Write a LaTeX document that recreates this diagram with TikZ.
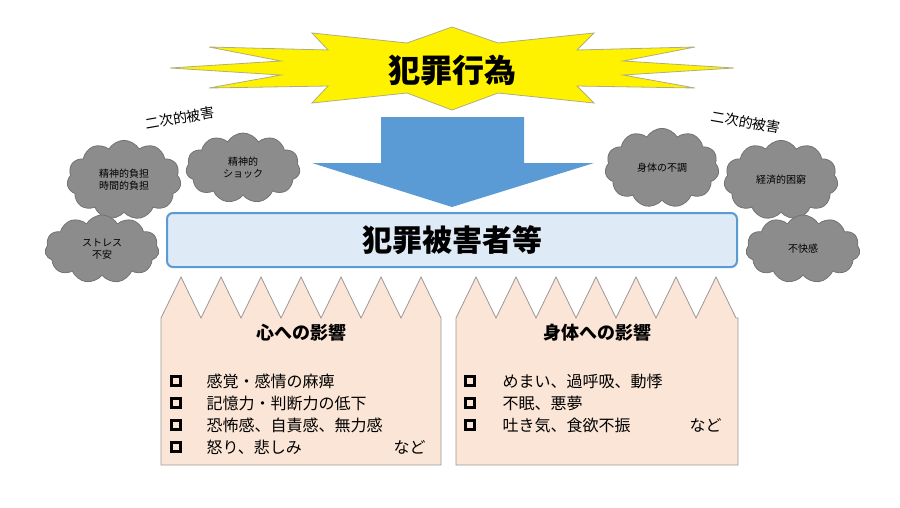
\documentclass[tikz,border=0pt]{standalone}
\usepackage{fontspec}
\setmainfont{Noto Sans CJK JP}
\usetikzlibrary{shapes.symbols}
\definecolor{ablue}{HTML}{5B9BD5}
\definecolor{lblue}{HTML}{DEEBF7}
\definecolor{peach}{HTML}{FBE5D6}
\definecolor{cgray}{HTML}{8C8C8C}
\tikzset{
  cl/.style={cloud, cloud puffs=11, cloud puff arc=120, fill=cgray, draw=black!55, line width=0.8pt, align=center, font=\fontsize{10}{12}\selectfont, inner sep=0pt},
  sec/.style={font=\fontsize{14}{16}\selectfont},
  itm/.style={anchor=west, font=\fontsize{16}{19}\selectfont},
  chk/.style={draw=black, line width=2.2pt, minimum size=9pt, inner sep=0pt},
  zig/.style={fill=peach, draw=black!40, line width=0.8pt}
}
\begin{document}
\begin{tikzpicture}[x=1pt,y=-1pt]
\useasboundingbox (0,0) rectangle (900,507);
% burst
\draw[fill=yellow, draw=gray!70!yellow, line width=0.8pt]
 (452,27)--(498,43)--(594,33)--(577,50)--(695,47)--(623,61)--(734,68)--(623,75)--(695,88)--(577,86)--(594,103)--(498,93)--(452,110)--(407,93)--(312,103)--(328,86)--(209,88)--(281,75)--(170,68)--(281,61)--(209,47)--(328,50)--(312,33)--(407,43)--cycle;
\node[font=\fontsize{32}{36}\selectfont\bfseries] (crime) at (452,70) {犯罪行為};
% arrow
\fill[ablue] (381,117)--(524,117)--(524,163)--(594,163)--(452,207)--(312,163)--(381,163)--cycle;
% victim box
\node[draw=ablue, line width=2pt, fill=lblue, rounded corners=6pt, minimum width=570pt, minimum height=54pt, font=\fontsize{30}{34}\selectfont\bfseries] (victim) at (452,240) {犯罪被害者等};
% secondary labels
\node[sec, rotate=10] (s1) at (180,118) {二次的被害};
\node[sec, rotate=-10] (s2) at (746,122) {二次的被害};
% clouds
\node[cl, minimum width=114pt, minimum height=68pt] (c1) at (124,180) {精神的負担\\時間的負担};
\node[cl, minimum width=114pt, minimum height=70pt] (c2) at (243,168) {精神的\\ショック};
\node[cl, minimum width=114pt, minimum height=68pt] (c3) at (102,249) {ストレス\\不安};
\node[cl, minimum width=114pt, minimum height=70pt] (c4) at (662,168) {身体の不調};
\node[cl, minimum width=114pt, minimum height=68pt] (c5) at (781,180) {経済的困窮};
\node[cl, minimum width=114pt, minimum height=68pt] (c6) at (803,249) {不快感};
% lower boxes
\draw[zig] (161,465)--(161,318)
 \foreach \k in {0,...,6} { --({181+40*\k},277)--({201+40*\k},318) } --(441,318)--(441,465)--cycle;
\draw[zig] (456,465)--(456,318)
 \foreach \k in {0,...,6} { --({476+40*\k},277)--({496+40*\k},318) } --(738,318)--(738,465)--cycle;
\node[font=\fontsize{18}{20}\selectfont\bfseries] (h1) at (301,333) {心への影響};
\node[font=\fontsize{18}{20}\selectfont\bfseries] (h2) at (597,333) {身体への影響};
\foreach \y/\t in {381/感覚・感情の麻痺, 403/記憶力・判断力の低下, 425/恐怖感、自責感、無力感, 447/怒り、悲しみ}{
  \node[chk] at (176,\y) {};
  \node[itm] at (203,\y) {\t};
}
\node[itm] (nd1) at (390,447) {など};
\foreach \y/\t in {381/めまい、過呼吸、動悸, 403/不眠、悪夢, 425/吐き気、食欲不振}{
  \node[chk] at (470,\y) {};
  \node[itm] at (499,\y) {\t};
}
\node[itm] (nd2) at (686,425) {など};
\end{tikzpicture}
\end{document}
